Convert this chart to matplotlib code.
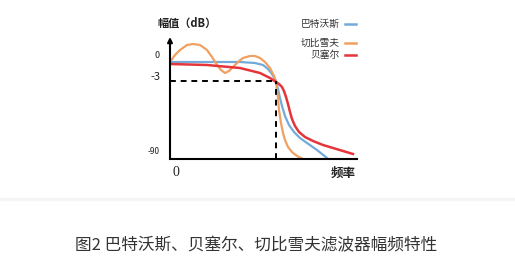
import matplotlib
matplotlib.use("Agg")
import matplotlib.pyplot as plt

plt.rcParams['font.family'] = ['Noto Sans CJK SC', 'DejaVu Sans']

# frequency (arbitrary units, cutoff at 106) and level (arbitrary display units)
butter_f = [0, 30, 70, 85, 93, 98, 102, 106, 108, 110, 112, 115, 119, 124,
            130, 137, 147, 157]
butter_y = [97, 97, 97, 96, 94, 90, 85, 78, 70, 61, 53, 43, 34, 27, 21, 16, 9, 1]

cheby_f = [0, 5, 10, 17, 23, 30, 37, 42, 47, 51, 55, 59, 63, 68, 73, 80, 85,
           90, 95, 100, 104, 106, 108, 109, 111, 113, 115, 118, 122, 127, 133]
cheby_y = [97, 104, 109, 114, 115, 114, 109, 102, 94, 89, 86, 88, 92, 97, 101,
           103, 103, 101, 97, 91, 83, 77, 61, 49, 36, 26, 19, 12, 7, 3, 0]

bessel_f = [0, 37, 70, 90, 100, 106, 109, 112, 114, 116, 118, 120, 122, 125,
            129, 135, 143, 153, 163, 173, 183]
bessel_y = [95, 94, 91, 86, 81, 77, 75, 72, 68, 62, 55, 47, 40, 33, 27, 22,
            18, 14, 11, 8, 5]

cutoff_f = 106
cutoff_y = 78

names = ['巴特沃斯', '切比雪夫', '贝塞尔']
colors = ['#72aadb', '#f0a060', '#e5353b']
tick_labels = ['0', '-3', '-90']

W, H = 515, 278
fig = plt.figure(figsize=(W / 100, H / 100), dpi=100)


def fx(px):
    return px / W


def fy(py):
    return 1 - py / H


ax = fig.add_axes([fx(170), fy(159), 190 / W, 124 / H])
ax.set_xlim(0, 190)
ax.set_ylim(0, 124)
ax.axis('off')

ax.plot(butter_f, butter_y, color=colors[0], lw=1.6, solid_joinstyle='round')
ax.plot(cheby_f, cheby_y, color=colors[1], lw=1.6, solid_joinstyle='round')
ax.plot(bessel_f, bessel_y, color=colors[2], lw=1.8, solid_joinstyle='round')

ax.plot([0, cutoff_f], [cutoff_y, cutoff_y], color='black', lw=1.4, ls=(0, (3, 2.5)))
ax.plot([cutoff_f, cutoff_f], [0, cutoff_y], color='black', lw=1.4, ls=(0, (3, 2.5)))

# axes lines
ax.plot([0, 187], [0, 0], color='black', lw=1.5, clip_on=False)
ax.annotate('', xy=(0, 122), xytext=(0, 0),
            arrowprops=dict(arrowstyle='-|>', lw=1.5, color='black',
                            mutation_scale=7, shrinkA=0, shrinkB=0),
            annotation_clip=False)

# y labels
fig.text(fx(157), fy(56), tick_labels[0], fontsize=6.5, ha='center', va='center',
         color='#222222')
fig.text(fx(155), fy(77), tick_labels[1], fontsize=8, ha='center', va='center',
         color='#222222')
fig.text(fx(154), fy(152), tick_labels[2], fontsize=6, ha='center', va='center',
         color='#222222')
fig.text(fx(157), fy(23), '幅值（dB）', fontsize=8, fontweight='bold',
         ha='left', va='center', color='#222222')
fig.text(fx(176), fy(172), '0', fontsize=10, family='Liberation Serif',
         ha='center', va='center', color='#222222')
fig.text(fx(343), fy(173), '频率', fontsize=9, fontweight='bold',
         ha='center', va='center', color='#222222')

# legend
for name, c, py in zip(names, colors, [24, 43, 55]):
    fig.text(fx(340), fy(py), name, fontsize=7, ha='right', va='center',
             color='#333333')
    fig.add_artist(plt.Line2D([fx(345), fx(356)], [fy(py), fy(py)], color=c,
                              lw=1.8))

# faint separator
fig.add_artist(plt.Line2D([fx(0), fx(515)], [fy(199), fy(199)],
                          color='#f5f5f5', lw=2.5))

fig.text(fx(256), fy(246), '图2 巴特沃斯、贝塞尔、切比雪夫滤波器幅频特性',
         fontsize=12, ha='center', va='center', color='#333333')

fig.savefig('out.png', dpi=100)
